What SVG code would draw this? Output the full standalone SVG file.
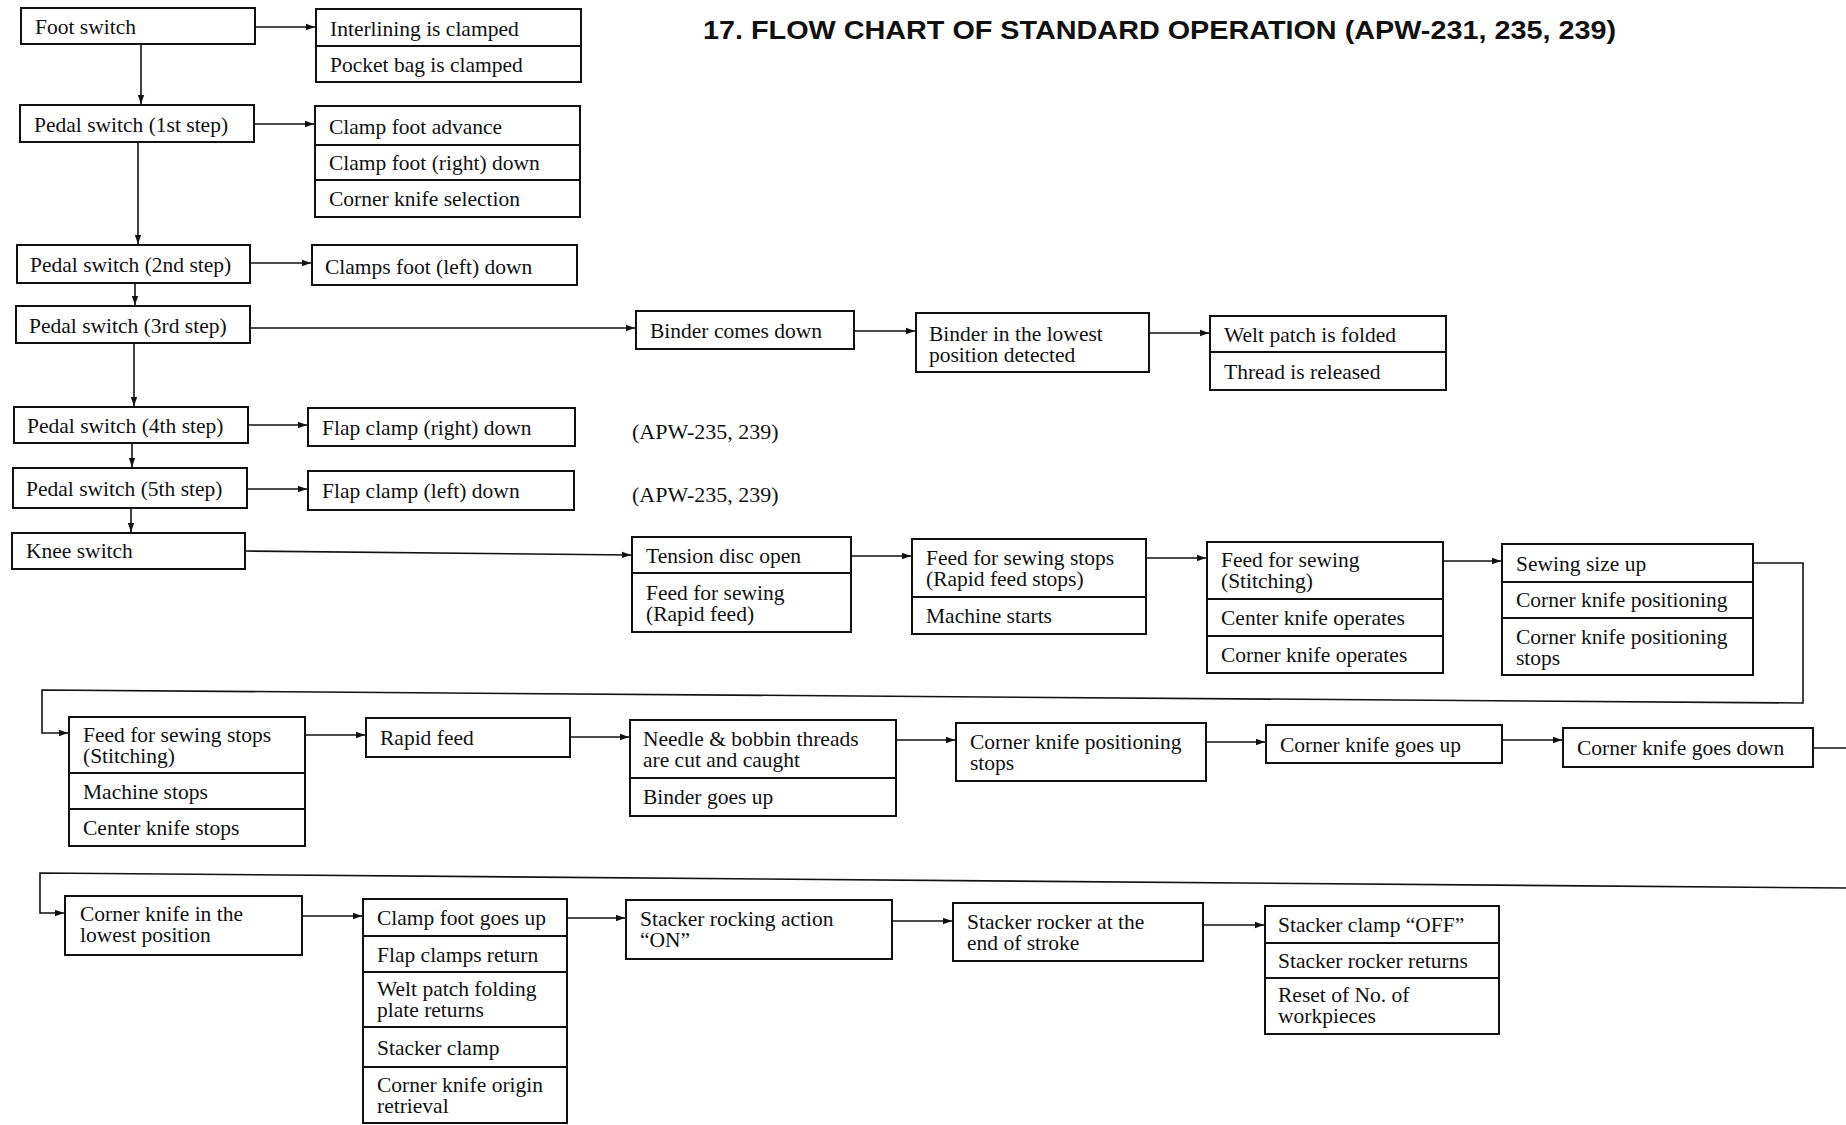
<svg xmlns="http://www.w3.org/2000/svg" width="1846" height="1125" viewBox="0 0 1846 1125">
<defs>
<style>
.b{fill:#fff;stroke:#111;stroke-width:2}
.t{font-family:"Liberation Serif","Times New Roman",serif;font-size:21.5px;fill:#111}
.c{fill:none;stroke:#111;stroke-width:1.6}
.a{font-family:"Liberation Serif","Times New Roman",serif;font-size:22px;fill:#111}
.h{font-family:"Liberation Sans",Arial,sans-serif;font-size:25px;font-weight:bold;fill:#111}
</style>
<marker id="ar" markerWidth="10" markerHeight="8" refX="9" refY="4" orient="auto" markerUnits="userSpaceOnUse">
<path d="M0,0.8 L9,4 L0,7.2 Z" fill="#111"/>
</marker>
</defs>
<rect width="1846" height="1125" fill="#fff"/>
<text class="h" x="703" y="39" textLength="913" lengthAdjust="spacingAndGlyphs">17.  FLOW CHART OF STANDARD OPERATION (APW-231, 235, 239)</text>

<g id="connectors">
<path class="c" marker-end="url(#ar)" d="M255,27 H315"/>
<path class="c" marker-end="url(#ar)" d="M141,44 V104"/>
<path class="c" marker-end="url(#ar)" d="M254,124 H314"/>
<path class="c" marker-end="url(#ar)" d="M138,142 V244"/>
<path class="c" marker-end="url(#ar)" d="M250,263 H311"/>
<path class="c" marker-end="url(#ar)" d="M135,283 V305"/>
<path class="c" marker-end="url(#ar)" d="M250,328 H635"/>
<path class="c" marker-end="url(#ar)" d="M854,331 H915"/>
<path class="c" marker-end="url(#ar)" d="M1149,333 H1209"/>
<path class="c" marker-end="url(#ar)" d="M134,343 V406"/>
<path class="c" marker-end="url(#ar)" d="M248,425 H307"/>
<path class="c" marker-end="url(#ar)" d="M132,443 V467"/>
<path class="c" marker-end="url(#ar)" d="M247,489 H307"/>
<path class="c" marker-end="url(#ar)" d="M131,508 V532"/>
<path class="c" marker-end="url(#ar)" d="M245,551 L631,555"/>
<path class="c" marker-end="url(#ar)" d="M851,556 H911"/>
<path class="c" marker-end="url(#ar)" d="M1146,558 H1206"/>
<path class="c" marker-end="url(#ar)" d="M1443,561 H1501"/>
<path class="c" marker-end="url(#ar)" d="M1753,563 H1803 V703 L42,690 V733 H68"/>
<path class="c" marker-end="url(#ar)" d="M305,735 H365"/>
<path class="c" marker-end="url(#ar)" d="M570,737 H629"/>
<path class="c" marker-end="url(#ar)" d="M896,740 H955"/>
<path class="c" marker-end="url(#ar)" d="M1206,742 H1265"/>
<path class="c" marker-end="url(#ar)" d="M1502,740 H1562"/>
<path class="c" d="M1813,748 H1846"/>
<path class="c" marker-end="url(#ar)" d="M1846,888 L40,873 V913 H64"/>
<path class="c" marker-end="url(#ar)" d="M302,916 H362"/>
<path class="c" marker-end="url(#ar)" d="M567,918 H625"/>
<path class="c" marker-end="url(#ar)" d="M892,921 H952"/>
<path class="c" marker-end="url(#ar)" d="M1203,925 H1264"/>
</g>

<g id="foot-switch"><rect class="b" x="21" y="8" width="234" height="36"/><text class="t" x="35" y="34">Foot switch</text></g>
<g id="clamped"><rect class="b" x="316" y="9" width="265" height="37"/><rect class="b" x="316" y="46" width="265" height="36"/>
<text class="t" x="330" y="36">Interlining is clamped</text><text class="t" x="330" y="72">Pocket bag is clamped</text></g>

<g id="pedal-1"><rect class="b" x="20" y="105" width="234" height="37"/><text class="t" x="34" y="132">Pedal switch (1st step)</text></g>
<g id="clamp-foot"><rect class="b" x="315" y="106" width="265" height="39"/><rect class="b" x="315" y="145" width="265" height="35"/><rect class="b" x="315" y="180" width="265" height="37"/>
<text class="t" x="329" y="134">Clamp foot advance</text><text class="t" x="329" y="170">Clamp foot (right) down</text><text class="t" x="329" y="206">Corner knife selection</text></g>

<g id="pedal-2"><rect class="b" x="17" y="245" width="233" height="38"/><text class="t" x="30" y="272">Pedal switch (2nd step)</text></g>
<g id="clamps-left"><rect class="b" x="312" y="245" width="265" height="40"/><text class="t" x="325" y="274">Clamps foot (left) down</text></g>

<g id="pedal-3"><rect class="b" x="16" y="306" width="234" height="37"/><text class="t" x="29" y="333">Pedal switch (3rd step)</text></g>
<g id="binder-down"><rect class="b" x="636" y="311" width="218" height="38"/><text class="t" x="650" y="338">Binder comes down</text></g>
<g id="binder-lowest"><rect class="b" x="916" y="313" width="233" height="59"/><text class="t" x="929" y="341">Binder in the lowest</text><text class="t" x="929" y="362">position detected</text></g>
<g id="welt"><rect class="b" x="1210" y="316" width="236" height="36"/><rect class="b" x="1210" y="352" width="236" height="38"/>
<text class="t" x="1224" y="342">Welt patch is folded</text><text class="t" x="1224" y="379">Thread is released</text></g>

<g id="pedal-4"><rect class="b" x="14" y="407" width="234" height="36"/><text class="t" x="27" y="433">Pedal switch (4th step)</text></g>
<g id="flap-right"><rect class="b" x="308" y="408" width="267" height="38"/><text class="t" x="322" y="435">Flap clamp (right) down</text></g>
<text class="a" x="632" y="439">(APW-235, 239)</text>

<g id="pedal-5"><rect class="b" x="13" y="468" width="234" height="40"/><text class="t" x="26" y="496">Pedal switch (5th step)</text></g>
<g id="flap-left"><rect class="b" x="308" y="471" width="266" height="39"/><text class="t" x="322" y="498">Flap clamp (left) down</text></g>
<text class="a" x="632" y="502">(APW-235, 239)</text>

<g id="knee-switch"><rect class="b" x="12" y="533" width="233" height="36"/><text class="t" x="26" y="558">Knee switch</text></g>
<g id="tension"><rect class="b" x="632" y="537" width="219" height="36"/><rect class="b" x="632" y="573" width="219" height="59"/>
<text class="t" x="646" y="563">Tension disc open</text><text class="t" x="646" y="600">Feed for sewing</text><text class="t" x="646" y="621">(Rapid feed)</text></g>
<g id="feed-stops"><rect class="b" x="912" y="539" width="234" height="58"/><rect class="b" x="912" y="597" width="234" height="37"/>
<text class="t" x="926" y="565">Feed for sewing stops</text><text class="t" x="926" y="586">(Rapid feed stops)</text><text class="t" x="926" y="623">Machine starts</text></g>
<g id="stitching"><rect class="b" x="1207" y="542" width="236" height="57"/><rect class="b" x="1207" y="599" width="236" height="37"/><rect class="b" x="1207" y="636" width="236" height="37"/>
<text class="t" x="1221" y="567">Feed for sewing</text><text class="t" x="1221" y="588">(Stitching)</text><text class="t" x="1221" y="625">Center knife operates</text><text class="t" x="1221" y="662">Corner knife operates</text></g>
<g id="sewing-size"><rect class="b" x="1502" y="544" width="251" height="38"/><rect class="b" x="1502" y="582" width="251" height="36"/><rect class="b" x="1502" y="618" width="251" height="57"/>
<text class="t" x="1516" y="571">Sewing size up</text><text class="t" x="1516" y="607">Corner knife positioning</text><text class="t" x="1516" y="644">Corner knife positioning</text><text class="t" x="1516" y="665">stops</text></g>

<g id="feed-stops-stitching"><rect class="b" x="69" y="717" width="236" height="56"/><rect class="b" x="69" y="773" width="236" height="36"/><rect class="b" x="69" y="809" width="236" height="37"/>
<text class="t" x="83" y="742">Feed for sewing stops</text><text class="t" x="83" y="763">(Stitching)</text><text class="t" x="83" y="799">Machine stops</text><text class="t" x="83" y="835">Center knife stops</text></g>
<g id="rapid-feed"><rect class="b" x="366" y="718" width="204" height="39"/><text class="t" x="380" y="745">Rapid feed</text></g>
<g id="needle"><rect class="b" x="630" y="720" width="266" height="58"/><rect class="b" x="630" y="778" width="266" height="38"/>
<text class="t" x="643" y="746">Needle &amp; bobbin threads</text><text class="t" x="643" y="767">are cut and caught</text><text class="t" x="643" y="804">Binder goes up</text></g>
<g id="ck-pos-stops"><rect class="b" x="956" y="723" width="250" height="58"/><text class="t" x="970" y="749">Corner knife positioning</text><text class="t" x="970" y="770">stops</text></g>
<g id="ck-up"><rect class="b" x="1266" y="725" width="236" height="38"/><text class="t" x="1280" y="752">Corner knife goes up</text></g>
<g id="ck-down"><rect class="b" x="1563" y="728" width="250" height="39"/><text class="t" x="1577" y="755">Corner knife goes down</text></g>

<g id="ck-lowest"><rect class="b" x="65" y="896" width="237" height="59"/><text class="t" x="80" y="921">Corner knife in the</text><text class="t" x="80" y="942">lowest position</text></g>
<g id="clamp-up"><rect class="b" x="363" y="899" width="204" height="37"/><rect class="b" x="363" y="936" width="204" height="36"/><rect class="b" x="363" y="972" width="204" height="55"/><rect class="b" x="363" y="1027" width="204" height="40"/><rect class="b" x="363" y="1067" width="204" height="56"/>
<text class="t" x="377" y="925">Clamp foot goes up</text><text class="t" x="377" y="962">Flap clamps return</text><text class="t" x="377" y="996">Welt patch folding</text><text class="t" x="377" y="1017">plate returns</text><text class="t" x="377" y="1055">Stacker clamp</text><text class="t" x="377" y="1092">Corner knife origin</text><text class="t" x="377" y="1113">retrieval</text></g>
<g id="stacker-on"><rect class="b" x="626" y="900" width="266" height="59"/><text class="t" x="640" y="926">Stacker rocking action</text><text class="t" x="640" y="947">“ON”</text></g>
<g id="stacker-end"><rect class="b" x="953" y="903" width="250" height="58"/><text class="t" x="967" y="929">Stacker rocker at the</text><text class="t" x="967" y="950">end of stroke</text></g>
<g id="stacker-off"><rect class="b" x="1265" y="906" width="234" height="37"/><rect class="b" x="1265" y="943" width="234" height="35"/><rect class="b" x="1265" y="978" width="234" height="56"/>
<text class="t" x="1278" y="932">Stacker clamp “OFF”</text><text class="t" x="1278" y="968">Stacker rocker returns</text><text class="t" x="1278" y="1002">Reset of No. of</text><text class="t" x="1278" y="1023">workpieces</text></g>
</svg>
